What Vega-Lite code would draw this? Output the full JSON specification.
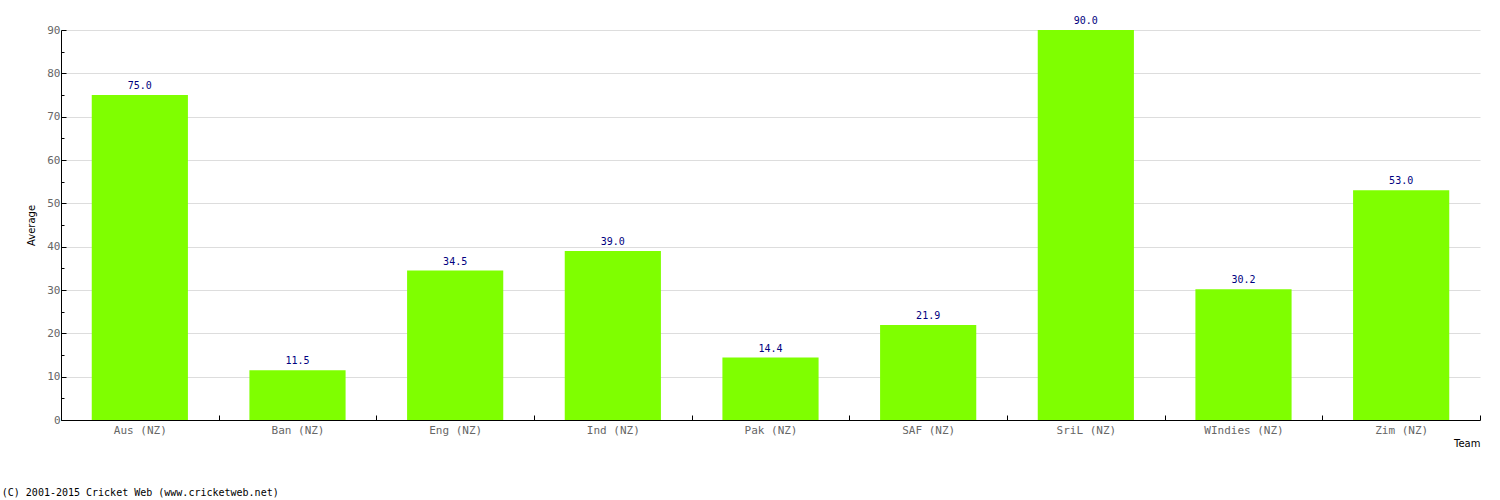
{
  "$schema": "https://vega.github.io/schema/vega-lite/v6.json",
  "width": 1419,
  "height": 390,
  "autosize": "none",
  "padding": {"left": 61, "top": 30, "right": 20, "bottom": 80},
  "background": "white",
  "data": {"values": [
    {"team": "Aus (NZ)", "avg": 75.0},
    {"team": "Ban (NZ)", "avg": 11.5},
    {"team": "Eng (NZ)", "avg": 34.5},
    {"team": "Ind (NZ)", "avg": 39.0},
    {"team": "Pak (NZ)", "avg": 14.4},
    {"team": "SAF (NZ)", "avg": 21.9},
    {"team": "SriL (NZ)", "avg": 90.0},
    {"team": "WIndies (NZ)", "avg": 30.2},
    {"team": "Zim (NZ)", "avg": 53.0}
  ]},
  "title": {
    "text": "(C) 2001-2015 Cricket Web (www.cricketweb.net)",
    "orient": "bottom",
    "anchor": "start",
    "dx": -25,
    "offset": 40,
    "font": "DejaVu Sans Mono",
    "fontSize": 10,
    "fontWeight": "normal",
    "color": "black"
  },
  "encoding": {
    "x": {
      "field": "team", "type": "nominal", "sort": null,
      "scale": {"paddingInner": 0, "paddingOuter": 0},
      "axis": {
        "title": "Team",
        "titleAnchor": "end",
        "titleAlign": "right",
        "titleBaseline": "middle",
        "titleY": 23,
        "titleFont": "DejaVu Sans",
        "titleFontSize": 10,
        "titleFontWeight": "normal",
        "titleColor": "black",
        "labelAngle": 0,
        "labelFont": "DejaVu Sans Mono",
        "labelFontSize": 11,
        "labelColor": "#666666",
        "labelPadding": 9,
        "tickBand": "extent",
        "tickSize": -5,
        "tickColor": "black",
        "domainColor": "black",
        "grid": false
      }
    },
    "y": {
      "field": "avg", "type": "quantitative",
      "scale": {"domain": [0, 90], "nice": false},
      "axis": {
        "title": "Average",
        "titleFont": "DejaVu Sans",
        "titleFontSize": 10,
        "titleFontWeight": "normal",
        "titleColor": "black",
        "titlePadding": 10,
        "values": [0, 5, 10, 15, 20, 25, 30, 35, 40, 45, 50, 55, 60, 65, 70, 75, 80, 85, 90],
        "labelExpr": "datum.value % 10 == 0 ? datum.label : ''",
        "labelFont": "DejaVu Sans Mono",
        "labelFontSize": 11,
        "labelColor": "#666666",
        "labelPadding": 6,
        "tickSize": {"condition": {"test": "datum.value % 10 == 0", "value": -5}, "value": -3},
        "tickColor": "black",
        "domainColor": "black",
        "grid": true,
        "gridColor": {"condition": {"test": "datum.value % 10 == 0 && datum.value > 0", "value": "#dddddd"}, "value": "transparent"}
      }
    }
  },
  "layer": [
    {"mark": {"type": "bar", "color": "#7FFF00", "width": {"band": 0.61}}},
    {
      "mark": {"type": "text", "baseline": "bottom", "dy": -4, "font": "DejaVu Sans Mono", "fontSize": 10, "color": "#000080"},
      "encoding": {"text": {"field": "avg", "type": "quantitative", "format": ".1f"}}
    }
  ],
  "config": {"view": {"stroke": null}}
}
